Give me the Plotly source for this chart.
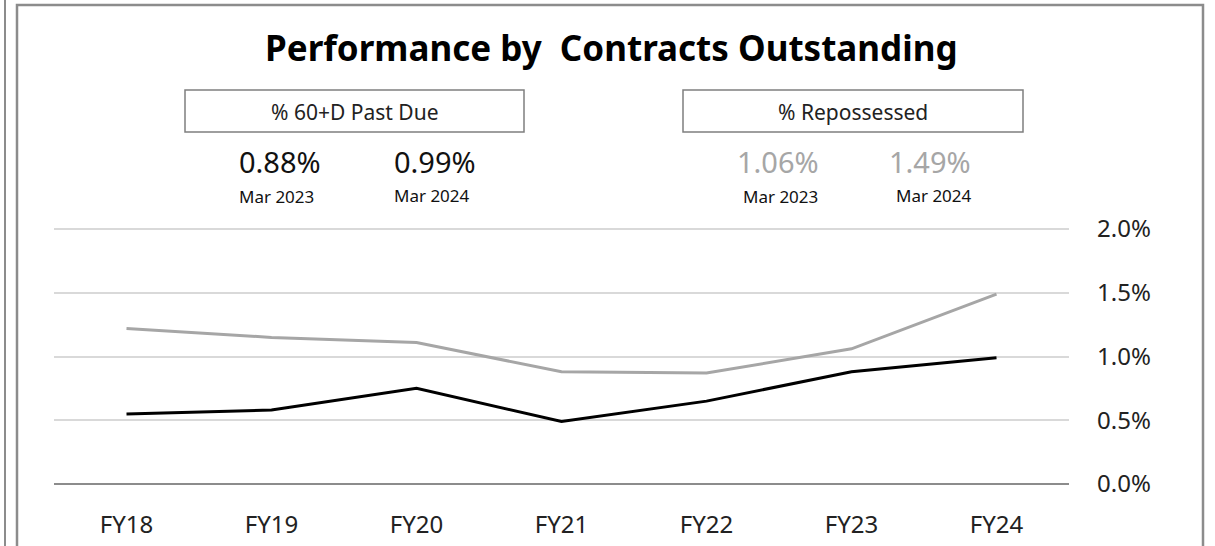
import plotly.graph_objects as go

categories = ["FY18", "FY19", "FY20", "FY21", "FY22", "FY23", "FY24"]
past_due = [0.55, 0.58, 0.75, 0.49, 0.65, 0.88, 0.99]
repossessed = [1.22, 1.15, 1.11, 0.88, 0.87, 1.06, 1.49]
y_ticks = [0.0, 0.5, 1.0, 1.5, 2.0]
y_tick_labels = ["0.0%", "0.5%", "1.0%", "1.5%", "2.0%"]

W, H = 1215, 546
FONT = "Noto Sans"


def px(x):
    return x / W


def py(y):
    return 1 - y / H


fig = go.Figure()
fig.add_trace(go.Scatter(x=categories, y=repossessed, mode="lines",
                         line=dict(color="#a6a6a6", width=3), name="% Repossessed"))
fig.add_trace(go.Scatter(x=categories, y=past_due, mode="lines",
                         line=dict(color="#000000", width=3), name="% 60+D Past Due"))

shapes = [
    # outer frames
    dict(type="line", xref="paper", yref="paper", x0=px(5), x1=px(5), y0=0, y1=1,
         line=dict(color="#8c8c8c", width=2)),
    dict(type="rect", xref="paper", yref="paper", x0=px(17), x1=px(1203), y0=-0.05, y1=py(5),
         line=dict(color="#8c8c8c", width=2.5)),
    # label boxes
    dict(type="rect", xref="paper", yref="paper", x0=px(185), x1=px(524), y0=py(132), y1=py(90),
         line=dict(color="#7f7f7f", width=1.5)),
    dict(type="rect", xref="paper", yref="paper", x0=px(683), x1=px(1023), y0=py(132), y1=py(90),
         line=dict(color="#7f7f7f", width=1.5)),
]

annotations = [
    dict(text="<b>Performance by  Contracts Outstanding</b>", x=px(612), y=py(47),
         font=dict(size=35, color="#000", family=FONT)),
    dict(text="% 60+D Past Due", x=px(354), y=py(112), font=dict(size=21, color="#222", family=FONT)),
    dict(text="% Repossessed", x=px(853), y=py(112), font=dict(size=21, color="#222", family=FONT)),
    dict(text="0.88%", x=px(280), y=py(161), font=dict(size=29, color="#111", family=FONT)),
    dict(text="Mar 2023", x=px(276), y=py(196), font=dict(size=17, color="#111", family=FONT)),
    dict(text="0.99%", x=px(435), y=py(161), font=dict(size=29, color="#111", family=FONT)),
    dict(text="Mar 2024", x=px(432), y=py(195), font=dict(size=17, color="#111", family=FONT)),
    dict(text="1.06%", x=px(778), y=py(161), font=dict(size=29, color="#a6a6a6", family=FONT)),
    dict(text="Mar 2023", x=px(780), y=py(196), font=dict(size=17, color="#111", family=FONT)),
    dict(text="1.49%", x=px(930), y=py(161), font=dict(size=29, color="#a6a6a6", family=FONT)),
    dict(text="Mar 2024", x=px(934), y=py(195), font=dict(size=17, color="#111", family=FONT)),
]
for a in annotations:
    a.update(xref="paper", yref="paper", showarrow=False, xanchor="center", yanchor="middle")

Y_TOP = 2.02
fig.update_layout(
    width=W, height=H,
    margin=dict(l=0, r=0, t=0, b=0, pad=0, autoexpand=False),
    paper_bgcolor="white", plot_bgcolor="white",
    showlegend=False,
    shapes=shapes,
    annotations=annotations,
    font=dict(family=FONT, color="#222"),
    xaxis=dict(domain=[px(54), px(1069)], range=[-0.5, 6.5], type="category",
               showgrid=False, showline=False, zeroline=False, ticks="", automargin=False,
               tickfont=dict(size=24, color="#222", family=FONT), ticklabelstandoff=24),
    yaxis=dict(domain=[py(484), py(484 - 127.5 * Y_TOP)], range=[0, Y_TOP], side="right",
               tickvals=y_ticks, ticktext=y_tick_labels, automargin=False,
               showgrid=True, gridcolor="#d9d9d9", gridwidth=2,
               zeroline=True, zerolinecolor="#8c8c8c", zerolinewidth=2,
               showline=False, ticks="",
               tickfont=dict(size=24, color="#222", family=FONT), ticklabelstandoff=27),
)

fig.write_html("out.html", config={"displayModeBar": False},
               post_script="document.body.style.margin='0px';")
